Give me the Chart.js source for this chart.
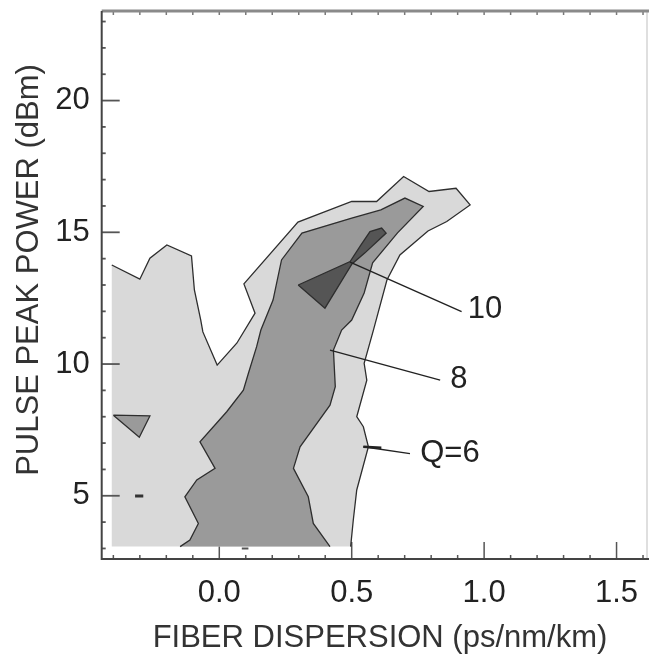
<!DOCTYPE html>
<html>
<head>
<meta charset="utf-8">
<script src="https://cdn.jsdelivr.net/npm/chart.js@4.4.1/dist/chart.umd.min.js"></script>
<style>
  html, body { margin: 0; padding: 0; background: #fff; }
  #wrap { width: 649px; height: 657px; }
</style>
</head>
<body>
<div id="wrap"><canvas id="contour" width="649" height="657"></canvas></div>
<script>
// contour outlines: [dispersion (ps/nm/km), peak power (dBm)]
const q6Region = [
  [-0.406, 3.07], [-0.406, 13.76], [-0.30, 13.22], [-0.262, 14.02], [-0.198, 14.52],
  [-0.105, 14.10], [-0.094, 12.81], [-0.070, 11.67], [-0.062, 11.22], [-0.008, 9.96],
  [0.066, 10.79], [0.135, 11.93], [0.093, 13.04], [0.297, 15.39], [0.500, 16.17],
  [0.594, 16.17], [0.696, 17.12], [0.792, 16.55], [0.894, 16.67], [0.947, 16.04],
  [0.859, 15.41], [0.788, 15.05], [0.682, 14.14], [0.633, 13.19], [0.582, 11.29],
  [0.547, 10.03], [0.557, 9.39], [0.519, 8.00], [0.544, 7.62], [0.563, 6.86],
  [0.519, 5.22], [0.506, 4.08], [0.496, 3.07], [-0.406, 3.07]
];
const q8Region = [
  [-0.148, 3.07], [-0.111, 3.32], [-0.079, 3.95], [-0.130, 4.96], [-0.085, 5.60],
  [-0.016, 6.04], [-0.073, 7.05], [0.028, 8.19], [0.091, 9.01], [0.110, 9.65],
  [0.141, 10.66], [0.157, 11.29], [0.203, 12.43], [0.235, 13.95], [0.312, 14.97],
  [0.500, 15.54], [0.610, 15.85], [0.701, 16.30], [0.770, 15.98], [0.673, 14.98],
  [0.579, 13.84], [0.547, 12.70], [0.500, 11.67], [0.462, 11.29], [0.431, 10.53],
  [0.438, 9.14], [0.418, 8.44], [0.305, 6.86], [0.280, 6.04], [0.336, 4.96],
  [0.355, 3.95], [0.418, 3.07], [-0.148, 3.07]
];
const q8Island = [[-0.400, 8.06], [-0.262, 8.03], [-0.302, 7.22], [-0.400, 8.06]];
const q10Region = [
  [0.298, 13.00], [0.494, 13.89], [0.535, 14.52], [0.569, 15.03], [0.613, 15.16],
  [0.630, 14.97], [0.550, 14.22], [0.501, 13.80], [0.399, 12.12], [0.298, 13.00]
];
const q6Dash = [[-0.318, 4.99], [-0.287, 4.99]];
const q6Speck = [[0.085, 3.00], [0.110, 3.00]];

const xTicks = [0.0, 0.5, 1.0, 1.5];
const yTicks = [5, 10, 15, 20];
const levelText = ['10', '8', 'Q=6'];

// leader start, leader end, text centre (data units)
const levelLeaders = [
  [[0.494, 13.87], [0.915, 11.99], [1.003, 12.09]],
  [[0.418, 10.53], [0.834, 9.39], [0.905, 9.43]],
  [[0.544, 6.86], [0.720, 6.60], [0.871, 6.62]]
];

const edgeX = -0.406, edgeY = 3.07;
const FONT = '"Liberation Sans", Arial, sans-serif';
const LINE = '#2e2e2e';

const toXY = pts => pts.map(([x, y]) => ({ x, y }));
const same = (a, b) => Math.abs(a - b) < 1e-6;
// the data grid edges carry no contour line
const hideEdge = c =>
  (same(c.p0.parsed.x, edgeX) && same(c.p1.parsed.x, edgeX)) ||
  (same(c.p0.parsed.y, edgeY) && same(c.p1.parsed.y, edgeY)) ? 'rgba(0,0,0,0)' : undefined;

function regionFill(pts, color, order) {
  return {
    data: toXY(pts), showLine: true, fill: 'shape',
    backgroundColor: color, borderWidth: 0, borderColor: color,
    pointRadius: 0, tension: 0, order: order
  };
}
function regionLine(pts, order) {
  return {
    data: toXY(pts), showLine: true, fill: false,
    borderColor: LINE, borderWidth: 1.3,
    pointRadius: 0, tension: 0, order: order,
    segment: { borderColor: hideEdge }
  };
}

const frame = {
  id: 'frame',
  beforeDatasetsDraw(chart) {
    const { ctx, chartArea: a, scales: { x } } = chart;
    ctx.save();
    ctx.strokeStyle = '#555';
    ctx.lineWidth = 1.5;
    for (let i = -4; i <= 16; i++) {
      const px = x.getPixelForValue(i / 10);
      const len = i % 5 === 0 ? 17 : 4;
      ctx.beginPath();
      ctx.moveTo(px, a.bottom);
      ctx.lineTo(px, a.bottom - len);
      ctx.stroke();
    }
    ctx.restore();
  },
  afterDatasetsDraw(chart) {
    const { ctx, chartArea: a, scales: { x, y } } = chart;
    ctx.save();
    // left ticks
    ctx.strokeStyle = '#555';
    ctx.lineWidth = 1.8;
    for (let v = 3; v <= 23; v++) {
      const py = y.getPixelForValue(v);
      const len = v % 5 === 0 ? 18 : 4;
      ctx.beginPath();
      ctx.moveTo(a.left, py);
      ctx.lineTo(a.left + len, py);
      ctx.stroke();
    }
    // top ticks
    ctx.strokeStyle = '#777';
    ctx.lineWidth = 1.5;
    for (let i = -4; i <= 16; i++) {
      const px = x.getPixelForValue(i / 10);
      ctx.beginPath();
      ctx.moveTo(px, a.top);
      ctx.lineTo(px, a.top + 4);
      ctx.stroke();
    }
    // right axis (faint)
    ctx.strokeStyle = '#d4d4d4';
    ctx.lineWidth = 1.5;
    ctx.beginPath();
    ctx.moveTo(a.right, a.top);
    ctx.lineTo(a.right, a.bottom);
    ctx.stroke();
    // frame lines
    ctx.strokeStyle = '#8a8a8a';
    ctx.lineWidth = 3;
    ctx.beginPath();
    ctx.moveTo(a.left, a.top);
    ctx.lineTo(a.right + 2, a.top);
    ctx.stroke();
    ctx.strokeStyle = '#444';
    ctx.lineWidth = 2;
    ctx.beginPath();
    ctx.moveTo(a.left, a.top);
    ctx.lineTo(a.left, a.bottom);
    ctx.lineTo(a.right + 2, a.bottom);
    ctx.stroke();

    // level labels with leader lines
    ctx.strokeStyle = '#222';
    ctx.fillStyle = '#222';
    ctx.font = '31px ' + FONT;
    ctx.textAlign = 'center';
    ctx.textBaseline = 'middle';
    levelLeaders.forEach(([p0, p1, t], i) => {
      ctx.lineWidth = 1.4;
      ctx.beginPath();
      ctx.moveTo(x.getPixelForValue(p0[0]), y.getPixelForValue(p0[1]));
      ctx.lineTo(x.getPixelForValue(p1[0]), y.getPixelForValue(p1[1]));
      ctx.stroke();
      ctx.fillText(levelText[i], x.getPixelForValue(t[0]), y.getPixelForValue(t[1]));
    });
    // short heavy stub where the Q=6 leader meets its contour
    const s = levelLeaders[2][0];
    ctx.lineWidth = 2.6;
    ctx.beginPath();
    ctx.moveTo(x.getPixelForValue(s[0]), y.getPixelForValue(s[1]));
    ctx.lineTo(x.getPixelForValue(s[0]) + 18, y.getPixelForValue(s[1]) + 1);
    ctx.stroke();

    // axis titles
    ctx.fillStyle = '#333';
    ctx.font = '31px ' + FONT;
    ctx.fillText('FIBER DISPERSION (ps/nm/km)', 380, 638);
    ctx.translate(29, 270);
    ctx.rotate(-Math.PI / 2);
    ctx.fillText('PULSE PEAK POWER (dBm)', 0, 0);
    ctx.restore();
  }
};

new Chart(document.getElementById('contour'), {
  type: 'scatter',
  data: {
    datasets: [
      regionFill(q6Region, '#d9d9d9', 20),
      regionLine(q6Region, 19),
      regionFill(q8Region, '#9a9a9a', 18),
      regionLine(q8Region, 17),
      regionFill(q8Island, '#9a9a9a', 16),
      regionLine(q8Island, 15),
      regionFill(q10Region, '#555555', 14),
      regionLine(q10Region, 13),
      { data: toXY(q6Dash), showLine: true, borderColor: '#333', borderWidth: 3, pointRadius: 0, order: 1 },
      { data: toXY(q6Speck), showLine: true, borderColor: '#555', borderWidth: 2, pointRadius: 0, order: 1 }
    ]
  },
  options: {
    responsive: false,
    animation: false,
    devicePixelRatio: 1,
    layout: { padding: { left: 0, right: 2, top: 11, bottom: 0 } },
    plugins: { legend: { display: false }, tooltip: { enabled: false } },
    scales: {
      x: {
        type: 'linear',
        min: -0.444,
        max: 1.615,
        afterBuildTicks: s => { s.ticks = xTicks.map(v => ({ value: v })); },
        afterFit: s => { s.height = 98; s.paddingLeft = 0; s.paddingRight = 0; },
        grid: { display: false, drawTicks: false },
        border: { display: false },
        ticks: { callback: v => v.toFixed(1), color: '#222', font: { size: 31, family: FONT }, padding: 16, maxRotation: 0 }
      },
      y: {
        type: 'linear',
        min: 2.6,
        max: 23.4,
        afterBuildTicks: s => { s.ticks = yTicks.map(v => ({ value: v })); },
        afterFit: s => { s.width = 101.7; s.paddingTop = 0; s.paddingBottom = 0; },
        grid: { display: false, drawTicks: false },
        border: { display: false },
        ticks: { color: '#222', font: { size: 31, family: FONT }, padding: 12 }
      }
    }
  },
  plugins: [frame]
});
</script>
</body>
</html>
